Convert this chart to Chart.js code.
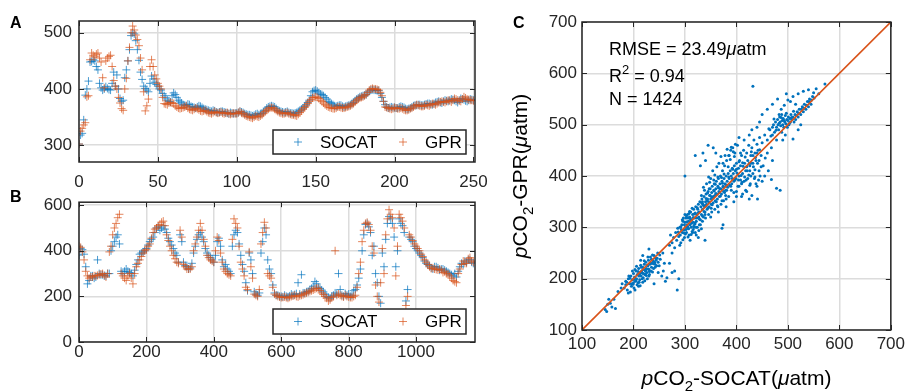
<!DOCTYPE html>
<html>
<head>
<meta charset="utf-8">
<script src="https://cdn.jsdelivr.net/npm/chart.js@4.4.1/dist/chart.umd.min.js"></script>
<style>
  body { margin: 0; background: #fff; }
  #wrap { position: relative; width: 909px; height: 392px; overflow: hidden; }
  canvas { position: absolute; }
</style>
</head>
<body>
<div id="wrap">
  <canvas id="graficoA" width="500" height="196" style="left:0;top:0"></canvas>
  <canvas id="graficoB" width="500" height="207" style="left:0;top:185px"></canvas>
  <canvas id="graficoC" width="409" height="392" style="left:500px;top:0"></canvas>
</div>
<script>
// ---- data ----
// panel A: one value per sample, starting at 0
const A_STEP = 1;
const aSocat = [
  302,318,321,345,389,400,414,448,449,452, 450,440,434,410,402,398,400,404,401,399,
  398,410,430,405,425,400,383,378,380,420, 434,450,470,495,500,498,486,470,451,430,
  417,405,401,398,395,410,423,418,412,408, 405,400,398,392,388,384,380,378,377,388,
  393,390,385,380,377,375,372,371,370,373, 372,369,368,367,366,368,370,369,367,365,
  364,363,362,361,360,362,361,359,358,359, 360,360,359,358,357,356,358,357,356,357,
  357,358,360,359,358,356,355,354,354,353, 352,353,355,356,354,356,357,359,362,366,
  368,369,370,369,368,365,362,361,360,359, 358,359,360,358,357,357,356,357,358,360,
  362,364,366,369,372,376,380,388,395,397, 398,396,393,391,390,388,385,382,378,376,
  374,372,370,369,370,371,371,369,368,369, 370,371,372,374,376,379,382,384,386,387,
  388,389,390,393,396,398,399,398,398,397, 397,392,385,378,372,368,366,367,368,367,
  367,366,366,368,369,368,367,365,364,365, 366,368,370,371,371,372,372,371,371,372,
  373,374,374,373,372,374,376,377,378,376, 375,378,380,379,378,380,382,381,380,378,
  376,380,383,382,381,379,378,380,382,381, 380];
const aGpr = [
  302,325,330,336,340,386,388,452,464,460, 457,462,464,455,448,420,402,450,455,458,
  460,440,415,405,400,385,375,365,362,400, 419,450,474,500,512,505,496,488,477,455,
  434,395,361,370,382,440,452,440,425,418, 410,405,400,385,374,373,372,375,376,375,
  374,370,368,366,365,366,367,368,370,366, 364,363,362,364,366,365,363,361,360,361,
  362,360,358,357,356,358,360,358,357,358, 359,357,356,357,358,356,355,356,357,356,
  356,358,360,357,356,354,352,351,350,349, 348,350,352,351,350,352,354,357,360,362,
  364,366,367,366,364,362,360,358,357,356, 356,357,358,356,355,354,354,353,352,355,
  358,361,364,367,370,374,378,381,384,385, 386,385,383,380,378,375,372,370,368,367,
  366,365,365,366,368,368,367,366,366,367, 368,369,370,372,374,377,380,382,384,385,
  386,388,390,394,398,400,401,400,400,399, 398,394,388,378,368,367,366,365,364,365,
  367,366,365,365,366,365,363,362,362,363, 365,366,368,370,372,371,370,369,369,370,
  372,371,370,372,374,373,372,374,376,377, 378,377,376,378,380,379,377,380,383,382,
  380,379,378,382,386,384,382,381,380,380, 379];
const aXTicks = [0, 50, 100, 150, 200, 250];
const aYTicks = [300, 400, 500];

// panel B: one value every B_STEP samples
const B_STEP = 5;
const bSocat = [
  381,410,405,385,330,255,270,290,290,280,285,360,300,295,295,290,290,300,300,400,
  420,440,460,470,430,310,300,310,320,310,305,300,290,315,340,360,385,390,395,400,
  410,425,440,450,460,480,500,505,490,500,510,495,480,455,440,425,410,390,380,350,
  470,440,350,335,330,320,325,345,390,420,450,470,480,460,440,410,390,380,370,360,
  350,380,440,455,420,360,330,340,320,310,300,420,470,490,480,430,380,340,310,260,
  225,390,360,300,220,210,205,215,390,440,500,470,360,320,300,250,215,205,205,200,
  200,198,205,200,198,202,210,205,208,212,260,210,295,215,215,220,222,228,235,245,
  265,255,240,235,228,220,210,200,195,192,200,205,215,210,300,230,205,200,212,205,
  210,200,205,225,230,250,280,320,400,470,515,520,505,480,380,420,300,260,200,170,
  390,330,450,520,550,540,520,460,330,400,540,520,510,480,180,230,460,450,440,420,
  410,400,390,380,370,355,345,340,335,325,320,330,330,325,315,320,320,315,310,305,
  300,295,290,300,285,310,330,345,340,355,350,360,360,350,345];
const bGpr = [
  420,415,395,360,310,290,280,285,285,290,290,292,295,298,300,292,285,300,395,420,
  470,500,520,545,560,300,290,280,270,290,300,280,255,300,330,345,360,375,390,400,
  405,420,430,455,480,495,500,510,515,525,530,510,470,445,420,400,380,365,350,345,
  490,460,340,330,320,320,320,330,400,430,460,490,520,490,450,420,380,370,360,355,
  350,400,460,445,390,350,320,310,300,295,290,450,540,520,500,420,350,320,290,240,
  230,395,330,280,210,205,200,230,430,480,525,500,300,290,280,240,210,205,200,198,
  195,196,198,195,192,196,200,202,205,200,198,203,205,208,212,215,218,222,225,228,
  232,236,235,226,215,208,200,192,180,185,195,200,400,205,210,205,200,198,205,200,
  198,195,195,200,205,240,300,350,440,490,520,525,515,490,420,390,250,200,175,260,
  410,300,470,540,580,560,545,500,290,420,560,545,530,500,160,200,470,460,445,430,
  420,410,400,385,375,360,350,340,330,322,325,320,318,316,320,315,305,308,300,298,
  290,280,270,265,260,300,320,340,355,345,345,365,370,355,350];
const bXTicks = [0, 200, 400, 600, 800, 1000];
const bYTicks = [0, 200, 400, 600];

// panel C: [SOCAT, GPR] pairs
const cPairs = [
  [145,140],[148,136],[152,160],[155,152],[158,145],[162,160],[150,150],[165,142],[170,175],[176,182],
  [178,190],[182,182],[185,195],[188,178],[190,200],[192,190],[194,174],[195,205],[196,185],[198,198],
  [200,210],[200,192],[201,182],[202,203],[204,195],[205,215],[206,200],[207,188],[208,208],[209,192],
  [210,220],[211,205],[212,198],[213,212],[214,226],[215,205],[216,215],[217,200],[218,222],[219,210],
  [220,218],[221,228],[222,208],[223,215],[224,232],[225,220],[226,212],[227,200],[228,225],[229,236],
  [230,218],[231,208],[232,228],[233,242],[234,215],[235,222],[236,230],[238,235],[239,220],[240,245],
  [241,232],[242,228],[244,236],[245,225],[246,240],[248,232],[250,225],[252,238],[255,205],[258,215],
  [262,195],[265,202],[270,230],[285,178],[288,200],[280,215],[190,172],[203,178],[230,258],[240,190],
  [248,212],[260,230],[275,212],[218,245],[198,215],[210,185],[222,196],[185,188],[230,205],[214,236],
  [187,193],[193,201],[199,189],[203,218],[207,207],[211,193],[215,222],[219,202],[223,209],[227,226],
  [231,214],[235,238],[239,229],[243,240],[205,196],[209,214],[213,186],[217,211],[221,235],[225,206],
  [229,219],[233,230],[237,213],[191,205],[196,190],[201,199],[206,224],[212,209],[218,193],[224,217],
  [228,242],[237,246],[242,222],[247,250],[251,246],[257,250],
  [270,265],[272,285],[275,270],[278,280],[280,260],[282,290],[284,275],[286,298],[288,282],[290,300],
  [291,285],[292,270],[294,305],[295,290],[296,312],[298,295],[299,280],[300,310],[301,300],[302,318],
  [303,290],[304,305],[305,325],[306,298],[307,312],[308,285],[309,320],[310,305],[311,330],[312,300],
  [313,315],[314,292],[315,325],[316,310],[317,335],[318,300],[319,318],[320,328],[321,340],[322,312],
  [323,325],[324,300],[325,335],[326,345],[327,320],[328,330],[329,350],[330,315],[331,340],[332,325],
  [333,355],[334,335],[335,345],[336,320],[337,360],[338,340],[339,330],[340,350],[341,365],[342,345],
  [343,335],[344,355],[345,370],[346,350],[347,340],[348,362],[349,375],[350,355],[351,345],[352,368],
  [353,380],[354,358],[355,348],[356,372],[357,385],[358,362],[359,352],[360,375],[361,390],[362,365],
  [363,355],[364,380],[365,395],[366,370],[367,360],[368,385],[369,400],[370,375],[371,365],[372,390],
  [373,410],[374,380],[375,370],[376,395],[377,420],[378,385],[379,372],[380,400],[381,430],[382,390],
  [383,378],[384,405],[385,440],[386,395],[387,382],[388,410],[389,450],[390,400],[391,385],[392,415],
  [393,455],[394,405],[395,390],[396,420],[397,445],[398,410],[399,395],[400,425],[402,460],[404,415],
  [405,400],[406,430],[408,420],[410,440],[412,405],[414,450],[416,425],[418,410],[420,445],[422,430],
  [424,460],[426,420],[428,440],[430,455],[432,425],[434,470],[436,445],[438,430],[440,462],[442,450],
  [445,475],[448,440],[450,465],[300,400],[320,440],[335,445],[345,460],[355,455],[330,420],[340,430],
  [360,445],[372,298],[374,305],[339,275],[326,280],[350,320],[365,330],[380,340],[395,350],[410,360],
  [425,355],[441,355],[430,362],[420,370],[440,380],[450,390],[426,382],[468,393],[478,376],[485,372],
  [455,400],[462,410],[470,430],[320,290],[310,275],[290,265],[275,250],[400,370],[405,380],[410,385],
  [415,390],[418,372],[422,395],[428,400],[432,405],[436,398],[444,410],[438,385],[412,365],[408,392],
  [426,410],[400,360],[395,368],[390,372],[385,360],[380,355],[375,352],[370,345],[364,340],[358,335],
  [352,330],[346,325],[340,318],[334,312],[328,305],[322,300],[316,296],
  [293,296],[297,318],[301,287],[305,302],[309,331],[313,308],[296,276],[299,305],[303,322],[307,297],
  [311,315],[315,290],[318,326],[302,296],[306,281],[310,318],[314,337],[319,306],[323,318],[327,294],
  [292,301],[298,289],[304,311],[308,327],[312,286],[316,319],[320,309],[324,338],[328,316],[332,297],
  [287,291],[295,315],[300,325],[306,318],[317,302],[322,285],[326,329],[330,305],[334,322],[336,343],
  [333,347],[337,331],[341,356],[345,338],[349,362],[353,344],[357,371],[361,350],[365,377],[369,361],
  [373,386],[377,368],[332,362],[336,378],[340,341],[344,367],[348,388],[352,359],[356,392],[360,366],
  [364,398],[368,375],[372,352],[376,404],[380,382],[339,325],[343,352],[347,375],[351,337],[355,360],
  [359,384],[363,342],[367,368],[371,397],[375,378],[379,362],[342,385],[346,398],[354,410],[358,402],
  [362,418],[366,425],[350,395],[338,372],[334,350],
  [381,372],[385,398],[389,380],[393,413],[397,392],[401,406],[405,428],[409,401],[413,419],[417,437],
  [421,410],[425,425],[429,447],[433,418],[437,436],[441,425],[445,451],[384,418],[388,432],[392,395],
  [396,438],[400,413],[404,392],[408,445],[412,426],[416,398],[420,418],[424,402],[428,425],[432,440],
  [436,412],[440,445],[444,430],[448,418],[386,440],[390,456],[394,447],[398,462],[382,452],[378,440],
  [374,425],[370,438],[403,380],[411,388],[419,392],[427,385],[435,395],[443,392],[446,400],[452,420],
  [456,435],[460,445],
  [455,480],[460,470],[465,490],[468,455],[470,495],[472,500],[474,485],[476,505],[478,495],[480,510],
  [481,500],[482,490],[484,515],[485,505],[486,498],[488,520],[489,508],[490,500],[491,512],[492,495],
  [494,505],[495,518],[496,502],[498,510],[499,495],[500,508],[501,515],[502,500],[504,512],[505,505],
  [506,520],[508,510],[510,515],[512,505],[514,520],[515,510],[518,525],[520,515],[522,530],[525,520],
  [528,535],[530,525],[532,540],[535,530],[538,545],[540,535],[542,550],[545,540],[548,555],[500,548],
  [505,545],[510,555],[515,540],[520,560],[530,565],[540,568],[550,562],[555,570],[560,560],[572,579],
  [432,575],[480,550],[497,560],[470,540],[460,530],[490,470],[495,480],[510,472],[520,490],[525,500],
  [445,505],[450,520],[440,495],[430,490],[425,480],[415,470],[405,475],
  [463,492],[467,478],[473,511],[477,489],[483,503],[487,514],[493,508],[497,522],[503,503],[507,514],
  [511,526],[516,518],[521,522],[526,530],[531,532],[536,538],[541,545],[546,548],[551,552],[483,520],
  [487,530],[493,538],[488,485],[478,470],[470,480]
];
const fitLine = [100, 700];
const cTicks = [100, 200, 300, 400, 500, 600, 700];

const FONT = '"Liberation Sans", Arial, Helvetica, sans-serif';
const INK = '#262626';
const BLUE = 'rgba(0,114,189,0.7)';
const ORANGE = 'rgba(217,83,25,0.7)';

// box around the axes with inward ticks on all four sides
const framePlugin = {
  id: 'frame',
  afterDatasetsDraw(chart) {
    const { ctx, chartArea: a, scales } = chart;
    ctx.save();
    ctx.strokeStyle = INK;
    ctx.lineWidth = 1;
    ctx.beginPath();
    scales.x.ticks.forEach(t => {
      const px = Math.round(scales.x.getPixelForValue(t.value)) + 0.5;
      ctx.moveTo(px, a.bottom); ctx.lineTo(px, a.bottom - 5);
      ctx.moveTo(px, a.top); ctx.lineTo(px, a.top + 5);
    });
    scales.y.ticks.forEach(t => {
      const py = Math.round(scales.y.getPixelForValue(t.value)) + 0.5;
      ctx.moveTo(a.left, py); ctx.lineTo(a.left + 5, py);
      ctx.moveTo(a.right, py); ctx.lineTo(a.right - 5, py);
    });
    ctx.stroke();
    ctx.lineWidth = 1.5;
    ctx.strokeRect(a.left, a.top, a.right - a.left, a.bottom - a.top);
    ctx.restore();
  }
};

// matlab style legend box in the lower right corner
const legendPlugin = {
  id: 'boxLegend',
  afterDraw(chart, args, opts) {
    if (!opts || !opts.box) return;
    const ctx = chart.ctx;
    const [x, y, w, h] = opts.box;
    ctx.save();
    ctx.fillStyle = '#fff';
    ctx.fillRect(x, y, w, h);
    ctx.strokeStyle = INK;
    ctx.lineWidth = 1.5;
    ctx.strokeRect(x, y, w, h);
    ctx.font = '17px ' + FONT;
    ctx.textBaseline = 'middle';
    chart.data.datasets.forEach((ds, i) => {
      const mx = x + opts.marks[i], my = y + h / 2;
      ctx.strokeStyle = ds.borderColor;
      ctx.lineWidth = 1;
      ctx.beginPath();
      ctx.moveTo(mx - 4, my); ctx.lineTo(mx + 4, my);
      ctx.moveTo(mx, my - 4); ctx.lineTo(mx, my + 4);
      ctx.stroke();
      ctx.fillStyle = '#000';
      ctx.fillText(ds.label, mx + 22, my + 1);
    });
    ctx.restore();
  }
};

// texts with italic / sub / superscript pieces
function drawRich(ctx, parts, x, y, size, align) {
  const fontFor = p => (p.i ? 'italic ' : '') + (p.b ? 'bold ' : '') +
    Math.round(p.sub || p.sup ? size * 0.7 : size) + 'px ' + FONT;
  let total = 0;
  parts.forEach(p => { ctx.font = fontFor(p); total += ctx.measureText(p.t).width; });
  let cx = align === 'center' ? x - total / 2 : x;
  parts.forEach(p => {
    ctx.font = fontFor(p);
    const dy = p.sub ? size * 0.28 : (p.sup ? -size * 0.42 : 0);
    ctx.fillText(p.t, cx, y + dy);
    cx += ctx.measureText(p.t).width;
  });
}

const textPlugin = {
  id: 'richText',
  afterDraw(chart, args, opts) {
    if (!opts || !opts.items) return;
    const ctx = chart.ctx;
    ctx.save();
    ctx.fillStyle = '#000';
    ctx.textBaseline = 'alphabetic';
    opts.items.forEach(it => {
      ctx.save();
      ctx.translate(it.x, it.y);
      if (it.rotate) ctx.rotate(it.rotate);
      drawRich(ctx, it.parts, 0, 0, it.size, it.align);
      ctx.restore();
    });
    ctx.restore();
  }
};

function axis(min, max, ticks, fixed, pad, horizontal) {
  return {
    type: 'linear',
    min: min,
    max: max,
    afterBuildTicks: s => { s.ticks = ticks.map(v => ({ value: v })); },
    afterFit: s => { if (horizontal) s.height = fixed; else s.width = fixed; },
    grid: { color: '#dcdcdc', lineWidth: 1.5, drawTicks: false },
    border: { display: false },
    ticks: { color: INK, padding: pad, maxRotation: 0, autoSkip: false,
      font: { family: FONT, size: 17 }, callback: v => String(v) }
  };
}

function seriesChart(id, socat, gpr, step, xr, yr, xTicks, yTicks, pad, label, labelY) {
  const ctx = document.getElementById(id).getContext('2d');
  return new Chart(ctx, {
    type: 'scatter',
    data: {
      datasets: [
        { label: 'SOCAT', data: socat.map((v, i) => ({ x: i * step, y: v })), order: 1,
          pointStyle: 'cross', pointRadius: 4, borderWidth: 1, borderColor: BLUE, backgroundColor: BLUE },
        { label: 'GPR', data: gpr.map((v, i) => ({ x: i * step, y: v })), order: 0,
          pointStyle: 'cross', pointRadius: 4, borderWidth: 1, borderColor: ORANGE, backgroundColor: ORANGE }
      ]
    },
    options: {
      responsive: false,
      animation: false,
      devicePixelRatio: 1,
      layout: { padding: pad.layout },
      plugins: {
        legend: { display: false },
        tooltip: { enabled: false },
        boxLegend: { box: pad.legend, marks: [25, 130] },
        richText: { items: [{ x: 10, y: labelY, size: 16, parts: [{ t: label, b: true }] }] }
      },
      scales: {
        x: axis(xr[0], xr[1], xTicks, pad.xh, pad.xpad, true),
        y: axis(yr[0], yr[1], yTicks, 79, pad.ypad, false)
      }
    },
    plugins: [framePlugin, legendPlugin, textPlugin]
  });
}

document.addEventListener('DOMContentLoaded', function () {
  seriesChart('graficoA', aSocat, aGpr, A_STEP, [0, 251], [270, 521], aXTicks, aYTicks,
    { layout: { left: 0, top: 21, right: 25, bottom: 0 }, xh: 34, xpad: 10, ypad: 7, legend: [273, 130, 193, 24] },
    'A', 28);
  seriesChart('graficoB', bSocat, bGpr, B_STEP, [0, 1175], [0, 613], bXTicks, bYTicks,
    { layout: { left: 0, top: 17, right: 25, bottom: 0 }, xh: 50, xpad: 0, ypad: 7, legend: [273, 124, 193, 25] },
    'B', 17);

  // panel C: scatter against the 1:1 line
  const ctxC = document.getElementById('graficoC').getContext('2d');
  new Chart(ctxC, {
    type: 'scatter',
    data: {
      datasets: [
        { type: 'line', label: '1:1', data: fitLine.map(v => ({ x: v, y: v })), showLine: true,
          borderColor: '#D95319', borderWidth: 1.6, pointRadius: 0, order: 0 },
        { label: 'pCO2', data: cPairs.map(p => ({ x: p[0], y: p[1] })), order: 1,
          pointStyle: 'circle', pointRadius: 1.5, borderWidth: 0, backgroundColor: '#0072BD' }
      ]
    },
    options: {
      responsive: false,
      animation: false,
      devicePixelRatio: 1,
      layout: { padding: { left: 0, top: 22, right: 18, bottom: 0 } },
      plugins: {
        legend: { display: false },
        tooltip: { enabled: false },
        richText: {
          items: [
            { x: 13, y: 28, size: 16, parts: [{ t: 'C', b: true }] },
            { x: 109, y: 55, size: 18, parts: [{ t: 'RMSE = 23.49' }, { t: 'μ', i: true }, { t: 'atm' }] },
            { x: 109, y: 82, size: 18, parts: [{ t: 'R' }, { t: '2', sup: true }, { t: ' = 0.94' }] },
            { x: 109, y: 105, size: 18, parts: [{ t: 'N = 1424' }] },
            { x: 236.5, y: 385, size: 21, align: 'center',
              parts: [{ t: 'p', i: true }, { t: 'CO' }, { t: '2', sub: true }, { t: '-SOCAT(' }, { t: 'μ', i: true }, { t: 'atm)' }] },
            { x: 27, y: 176, size: 21, align: 'center', rotate: -Math.PI / 2,
              parts: [{ t: 'p', i: true }, { t: 'CO' }, { t: '2', sub: true }, { t: '-GPR(' }, { t: 'μ', i: true }, { t: 'atm)' }] }
          ]
        }
      },
      scales: {
        x: axis(100, 700, cTicks, 62, 4, true),
        y: axis(100, 700, cTicks, 82, 5, false)
      }
    },
    plugins: [framePlugin, textPlugin]
  });
});
</script>
</body>
</html>
